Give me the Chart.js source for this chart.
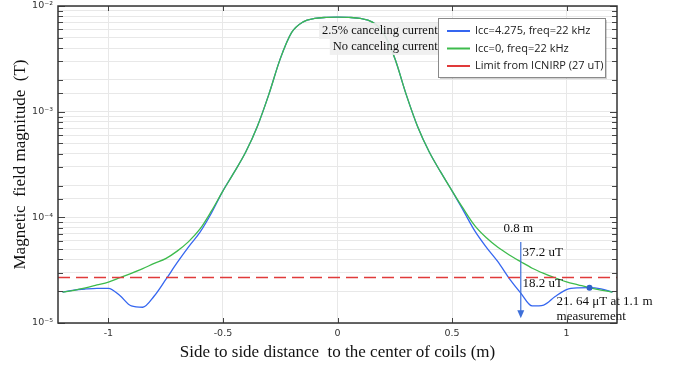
<!DOCTYPE html>
<html>
<head>
<meta charset="utf-8">
<script src="https://cdn.jsdelivr.net/npm/chart.js@4"></script>
<style>
    html, body { margin: 0; padding: 0; background: #fff; }
    #wrap { width: 691px; height: 367px; }
</style>
</head>
<body>
<div id="wrap"><canvas id="fieldChart" width="691" height="367"></canvas></div>
<script>
// side to side distance (m)
const distances = [
    -1.2, -1.15, -1.1, -1.05, -1.0, -0.95, -0.9, -0.85, -0.8, -0.75, -0.7, -0.65, -0.6, -0.55,
    -0.5, -0.45, -0.4, -0.35, -0.3, -0.25, -0.2, -0.15, -0.1, -0.05, 0,
    0.05, 0.1, 0.15, 0.2, 0.25, 0.3, 0.35, 0.4, 0.45, 0.5,
    0.55, 0.6, 0.65, 0.7, 0.75, 0.8, 0.85, 0.9, 0.95, 1.0, 1.05, 1.1, 1.15, 1.2
];

// Icc=4.275, freq=22 kHz (T)
const fieldCancel = [
    1.96e-5, 2.05e-5, 2.1e-5, 2.13e-5, 2.13e-5, 1.82e-5, 1.45e-5, 1.41e-5, 1.8e-5, 2.57e-5, 3.72e-5, 5.25e-5, 7.24e-5, 1.1e-4,
    1.78e-4, 2.69e-4, 4.17e-4, 7.24e-4, 1.45e-3, 3.16e-3, 5.62e-3, 7.08e-3, 7.62e-3, 7.8e-3, 7.85e-3,
    7.8e-3, 7.62e-3, 7.08e-3, 5.6e-3, 3.2e-3, 1.45e-3, 7.2e-4, 4.17e-4, 2.69e-4, 1.78e-4,
    1.15e-4, 7.4e-5, 5.2e-5, 3.8e-5, 2.63e-5, 1.92e-5, 1.45e-5, 1.48e-5, 1.78e-5, 2.07e-5, 2.15e-5, 2.16e-5, 2.1e-5, 1.96e-5
];

// Icc=0, freq=22 kHz (T)
const fieldNoCancel = [
    1.96e-5, 2.04e-5, 2.15e-5, 2.29e-5, 2.44e-5, 2.68e-5, 2.95e-5, 3.27e-5, 3.67e-5, 4.07e-5, 4.79e-5, 5.89e-5, 7.76e-5, 1.15e-4,
    1.78e-4, 2.69e-4, 4.17e-4, 7.24e-4, 1.45e-3, 3.16e-3, 5.62e-3, 7.08e-3, 7.62e-3, 7.8e-3, 7.85e-3,
    7.8e-3, 7.62e-3, 7.08e-3, 5.6e-3, 3.2e-3, 1.45e-3, 7.2e-4, 4.17e-4, 2.69e-4, 1.78e-4,
    1.2e-4, 8.3e-5, 6.4e-5, 5.2e-5, 4.4e-5, 3.8e-5, 3.3e-5, 2.95e-5, 2.68e-5, 2.45e-5, 2.3e-5, 2.16e-5, 2.05e-5, 1.96e-5
];

// ICNIRP limit (27 uT)
const limitX = [-1.22, 1.22];
const limitValue = 2.7e-5;

const xTicks = [-1, -0.5, 0, 0.5, 1];
const xTickLabels = ['-1', '-0.5', '0', '0.5', '1'];
const yDecades = [1e-5, 1e-4, 1e-3, 1e-2];
const yTickLabels = ['10\u207B\u2075', '10\u207B\u2074', '10\u207B\u00B3', '10\u207B\u00B2'];

const legendItems = [
    { label: 'Icc=4.275, freq=22 kHz', color: '#3566f0' },
    { label: 'Icc=0, freq=22 kHz', color: '#3dbb4c' },
    { label: 'Limit from ICNIRP (27 uT)', color: '#e03a3a' }
];

const isDecade = v => Math.abs(Math.log10(v) - Math.round(Math.log10(v))) < 1e-6;

const decorations = {
    id: 'decorations',
    afterDatasetsDraw(chart) {
        const { ctx, scales: { x, y } } = chart;
        ctx.save();
        ctx.textBaseline = 'middle';

        // label boxes near the peak
        ctx.font = '12.5px "Liberation Serif", "Times New Roman", serif';
        ctx.textAlign = 'right';
        [['2.5% canceling current', 5.8e-3], ['No canceling current', 4.1e-3]].forEach(([txt, v]) => {
            const px = x.getPixelForValue(0.437), py = y.getPixelForValue(v);
            const w = ctx.measureText(txt).width;
            ctx.fillStyle = 'rgba(238,238,238,0.9)';
            ctx.fillRect(px - w - 3, py - 8, w + 4, 16);
            ctx.fillStyle = '#111';
            ctx.fillText(txt, px, py);
        });

        // arrow at 0.8 m
        const ax = x.getPixelForValue(0.8);
        const ay1 = y.getPixelForValue(5.85e-5), ay2 = y.getPixelForValue(1.11e-5);
        ctx.strokeStyle = '#3d6fd9';
        ctx.fillStyle = '#3d6fd9';
        ctx.lineWidth = 1.2;
        ctx.beginPath();
        ctx.moveTo(ax, ay1);
        ctx.lineTo(ax, ay2 - 6);
        ctx.stroke();
        ctx.beginPath();
        ctx.moveTo(ax - 3.5, ay2 - 8);
        ctx.lineTo(ax + 3.5, ay2 - 8);
        ctx.lineTo(ax, ay2);
        ctx.closePath();
        ctx.fill();

        // measurement point
        ctx.fillStyle = '#3060c8';
        ctx.beginPath();
        ctx.arc(x.getPixelForValue(1.1), y.getPixelForValue(2.16e-5), 3, 0, Math.PI * 2);
        ctx.fill();

        ctx.font = '13px "Liberation Serif", "Times New Roman", serif';
        ctx.textAlign = 'left';
        ctx.fillStyle = '#111';
        const notes = [
            ['0.8 m', 0.725, 7.9e-5],
            ['37.2 uT', 0.808, 4.6e-5],
            ['18.2 uT', 0.808, 2.34e-5],
            ['21. 64 \u03BCT at 1.1 m', 0.956, 1.58e-5],
            ['measurement', 0.956, 1.14e-5]
        ];
        notes.forEach(([txt, vx, vy]) => ctx.fillText(txt, x.getPixelForValue(vx), y.getPixelForValue(vy)));
        ctx.restore();
    },
    afterDraw(chart) {
        const { ctx, chartArea: a, scales: { x, y } } = chart;
        ctx.save();
        ctx.strokeStyle = '#444';
        ctx.lineWidth = 1;
        // inner ticks
        ctx.beginPath();
        y.ticks.forEach(t => {
            const py = Math.round(y.getPixelForValue(t.value)) + 0.5;
            const len = isDecade(t.value) ? 7 : 5;
            ctx.moveTo(a.left, py); ctx.lineTo(a.left + len, py);
            ctx.moveTo(a.right, py); ctx.lineTo(a.right - len, py);
        });
        xTicks.forEach(v => {
            const px = Math.round(x.getPixelForValue(v)) + 0.5;
            ctx.moveTo(px, a.top); ctx.lineTo(px, a.top + 5);
            ctx.moveTo(px, a.bottom); ctx.lineTo(px, a.bottom - 5);
        });
        ctx.stroke();
        // frame
        ctx.strokeStyle = '#333';
        ctx.lineWidth = 1.5;
        ctx.strokeRect(a.left, a.top, a.right - a.left, a.bottom - a.top);

        // legend box
        const lx = a.right - 179, ly = a.top + 12, lw = 167, lh = 59;
        ctx.fillStyle = 'rgba(0,0,0,0.18)';
        ctx.fillRect(lx + 2, ly + 2, lw, lh);
        ctx.fillStyle = '#fff';
        ctx.fillRect(lx, ly, lw, lh);
        ctx.strokeStyle = '#8a8a8a';
        ctx.lineWidth = 1;
        ctx.strokeRect(lx + 0.5, ly + 0.5, lw, lh);
        ctx.font = '11px "Open Sans", "Liberation Sans", sans-serif';
        ctx.textAlign = 'left';
        ctx.textBaseline = 'middle';
        legendItems.forEach((item, i) => {
            const ry = ly + 13 + i * 17.5;
            ctx.strokeStyle = item.color;
            ctx.lineWidth = 2;
            ctx.beginPath();
            ctx.moveTo(lx + 9, ry); ctx.lineTo(lx + 32, ry);
            ctx.stroke();
            ctx.fillStyle = '#222';
            ctx.fillText(item.label, lx + 37, ry);
        });
        ctx.restore();
    }
};

const toPoints = vals => vals.map((v, i) => ({ x: distances[i], y: v }));

new Chart(document.getElementById('fieldChart'), {
    type: 'line',
    data: {
        datasets: [
            {
                label: 'Icc=4.275, freq=22 kHz',
                data: toPoints(fieldCancel),
                borderColor: '#3566f0',
                borderWidth: 1.3,
                pointRadius: 0,
                cubicInterpolationMode: 'monotone',
                order: 3
            },
            {
                label: 'Icc=0, freq=22 kHz',
                data: toPoints(fieldNoCancel),
                borderColor: '#3dbb4c',
                borderWidth: 1.3,
                pointRadius: 0,
                cubicInterpolationMode: 'monotone',
                order: 2
            },
            {
                label: 'Limit from ICNIRP (27 uT)',
                data: limitX.map(v => ({ x: v, y: limitValue })),
                borderColor: '#e03a3a',
                borderWidth: 1.5,
                borderDash: [12, 6],
                pointRadius: 0,
                order: 1
            }
        ]
    },
    options: {
        responsive: false,
        animation: false,
        layout: { padding: { top: 0, right: 74, left: 0, bottom: 0 } },
        plugins: { legend: { display: false }, tooltip: { enabled: false } },
        scales: {
            x: {
                type: 'linear',
                min: -1.22,
                max: 1.22,
                afterBuildTicks: scale => { scale.ticks = xTicks.map(v => ({ value: v })); },
                afterFit: scale => { scale.height = 44; },
                ticks: {
                    autoSkip: false,
                    maxRotation: 0,
                    padding: 5,
                    color: '#333',
                    font: { family: 'DejaVu Sans', size: 9.5 },
                    callback: v => xTickLabels[xTicks.indexOf(v)] ?? ''
                },
                grid: { color: '#e8e8e8', drawTicks: false },
                border: { display: false },
                title: {
                    display: true,
                    text: 'Side to side distance  to the center of coils (m)',
                    color: '#111',
                    font: { family: '"Liberation Serif", "Times New Roman", serif', size: 17 },
                    padding: { top: 0, bottom: 4 }
                }
            },
            y: {
                type: 'logarithmic',
                min: 1e-5,
                max: 1e-2,
                afterFit: scale => { scale.width = 58; scale.paddingTop = 6; scale.paddingBottom = 0; },
                ticks: {
                    autoSkip: false,
                    padding: 5,
                    color: '#333',
                    font: { family: 'DejaVu Sans', size: 9.5 },
                    callback: v => {
                        const i = yDecades.findIndex(d => Math.abs(d - v) / d < 1e-6);
                        return i >= 0 ? yTickLabels[i] : '';
                    }
                },
                grid: { color: '#e8e8e8', drawTicks: false },
                border: { display: false },
                title: {
                    display: true,
                    text: 'Magnetic  field magnitude  (T)',
                    color: '#111',
                    font: { family: '"Liberation Serif", "Times New Roman", serif', size: 17 },
                    padding: { top: 10, bottom: 0 }
                }
            }
        }
    },
    plugins: [decorations]
});
</script>
</body>
</html>
